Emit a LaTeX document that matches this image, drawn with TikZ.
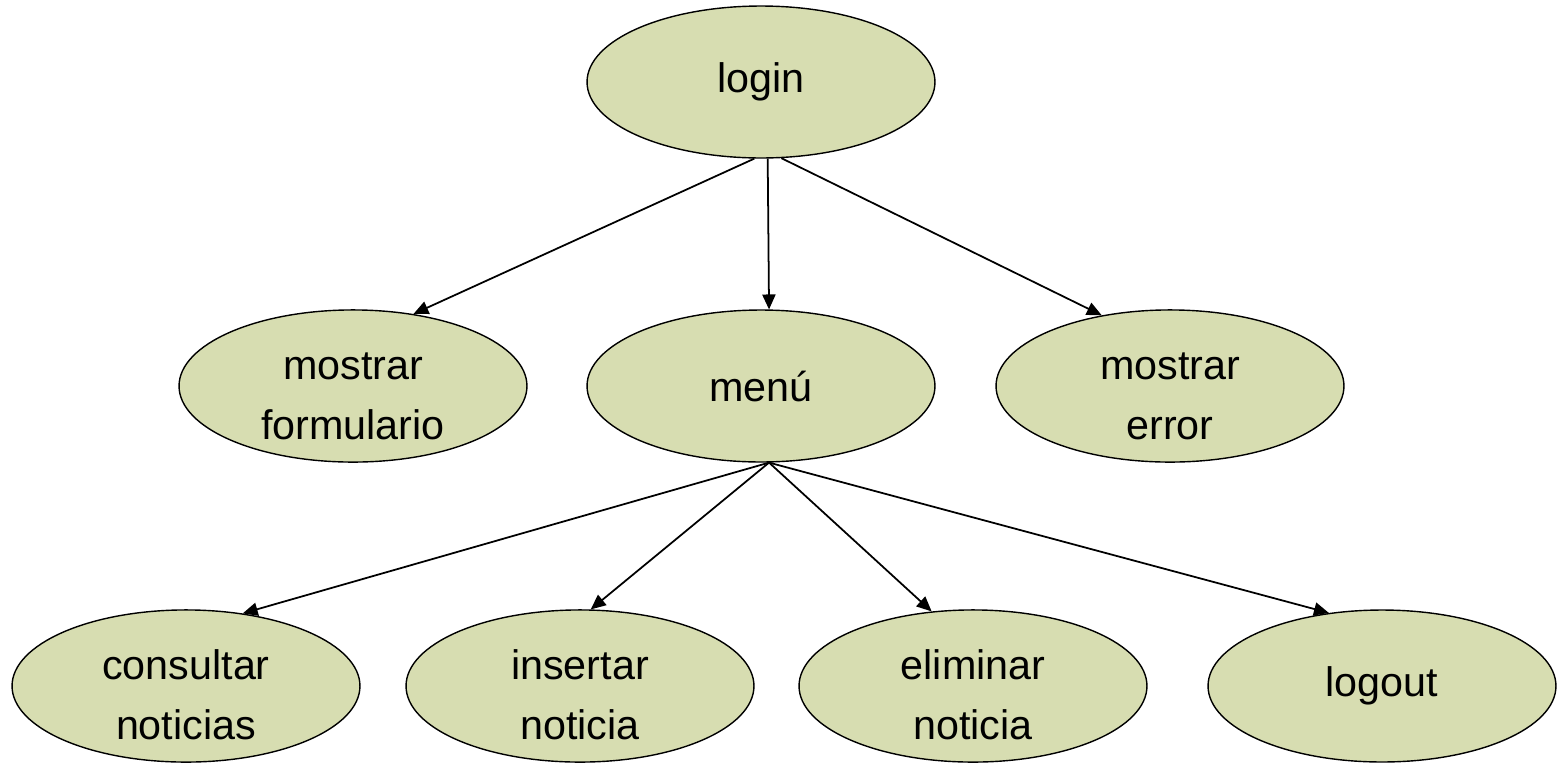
\documentclass[tikz,border=0pt]{standalone}
\usepackage{fontspec}
\setmainfont{Liberation Sans}
\usetikzlibrary{arrows.meta,shapes.geometric}
\definecolor{oliveFill}{RGB}{215,221,177}
\newcommand{\padtop}{\rule{0pt}{27pt}}

\begin{document}
\begin{tikzpicture}[x=0.02cm,y=-0.02cm,
    state/.style={draw,ellipse,fill=oliveFill,line width=0.8pt,inner sep=0pt,
      minimum width=6.96cm,minimum height=3.04cm,align=center,
      font=\fontsize{23.5}{34}\selectfont},
    flow/.style={-{Triangle[length=8.5pt,width=7.5pt]},line width=1pt}]
    \useasboundingbox (0,0) rectangle (1563,762);
    % first level
    \node[state] (login) at (761,82) {login};
    \node[state] (mform) at (353,386) {\padtop mostrar\\formulario};
    \node[state] (menu) at (761,386) {men\'u};
    \node[state] (merror) at (1170,386) {\padtop mostrar\\error};
    % second level
    \node[state] (consult) at (186,686) {\padtop consultar\\noticias};
    \node[state] (insert) at (580,686) {\padtop insertar\\noticia};
    \node[state] (remove) at (973,686) {\padtop eliminar\\noticia};
    \node[state] (logout) at (1382,686) {logout};
    \draw[flow] (login.265.5) -- (mform.50.5);
    \draw[flow] (login.275.3) -- (menu.84.7);
    \draw[flow] (login.285.4) -- (merror.134.2);
    \draw[flow] (menu.276) -- (consult.52.1);
    \draw[flow] (menu.276) -- (insert.82.5);
    \draw[flow] (menu.276) -- (remove.119);
    \draw[flow] (menu.276) -- (logout.126.9);
  \end{tikzpicture}
\end{document}
